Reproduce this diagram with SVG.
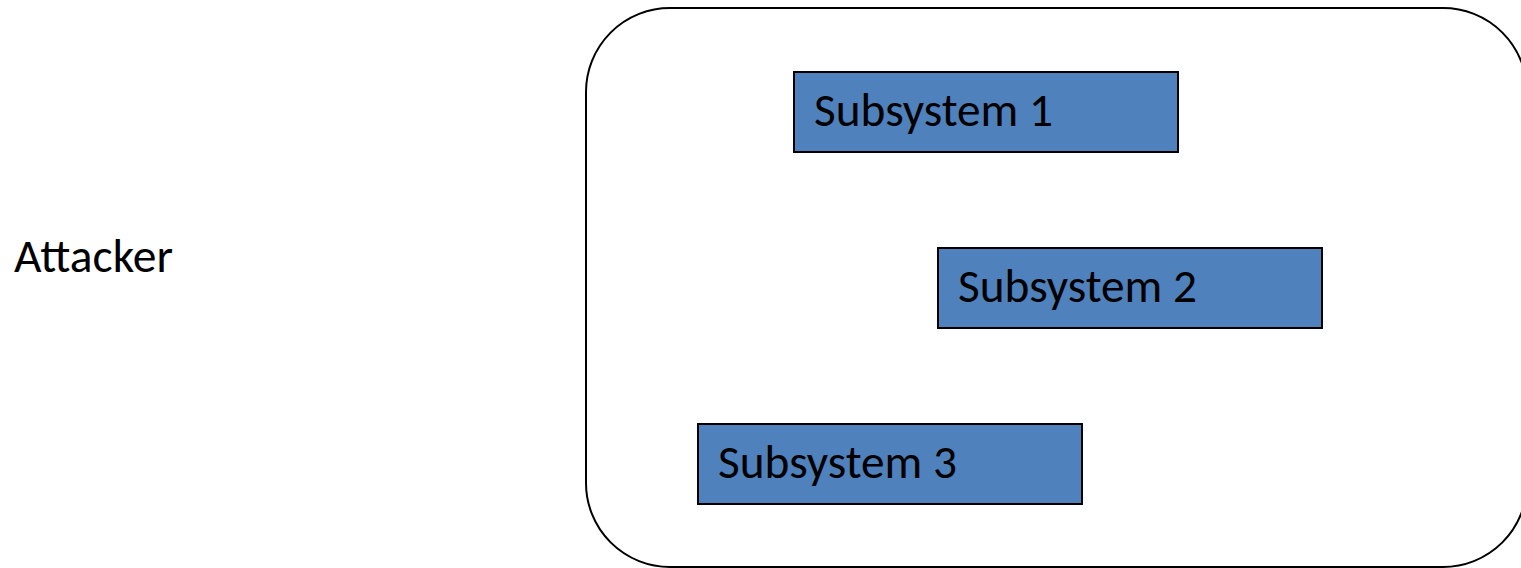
<svg xmlns="http://www.w3.org/2000/svg" width="1521" height="568" viewBox="0 0 1521 568">
  <style>
    .label { font-family: Carlito, Lato, "Open Sans", sans-serif; font-size: 47px; fill: #000000; }
    .sub { fill: #4F81BD; stroke: #000000; stroke-width: 2; }
    .boundary { fill: none; stroke: #000000; stroke-width: 2; }
  </style>
  <rect width="1521" height="568" fill="#ffffff"/>

  <g id="attacker">
    <text class="label" x="14" y="272" textLength="159" lengthAdjust="spacingAndGlyphs">Attacker</text>
  </g>

  <g id="system">
    <rect class="boundary" x="586" y="8" width="941" height="559" rx="84" ry="84"/>
  </g>

  <g id="subsystem-1">
    <rect class="sub" x="794" y="72" width="384" height="80"/>
    <text class="label" x="814" y="126" textLength="239" lengthAdjust="spacingAndGlyphs">Subsystem 1</text>
  </g>

  <g id="subsystem-2">
    <rect class="sub" x="938" y="248" width="384" height="80"/>
    <text class="label" x="958" y="302" textLength="239" lengthAdjust="spacingAndGlyphs">Subsystem 2</text>
  </g>

  <g id="subsystem-3">
    <rect class="sub" x="698" y="424" width="384" height="80"/>
    <text class="label" x="718" y="478" textLength="239" lengthAdjust="spacingAndGlyphs">Subsystem 3</text>
  </g>

  <g id="connectors"></g>
</svg>
